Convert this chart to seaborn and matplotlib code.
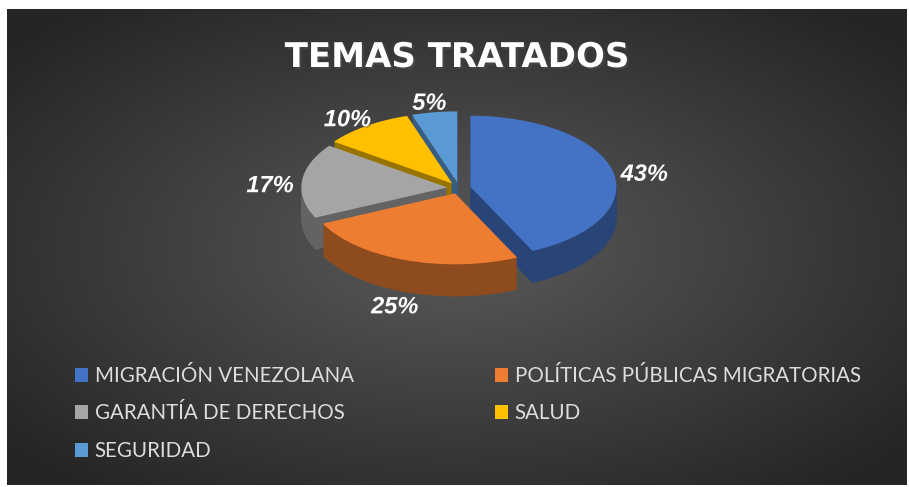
import numpy as np
import matplotlib
matplotlib.use("Agg")
import matplotlib.pyplot as plt
import matplotlib.patheffects as pe
from matplotlib.colors import LinearSegmentedColormap
import seaborn as sns

temas = ["MIGRACIÓN VENEZOLANA", "POLÍTICAS PÚBLICAS MIGRATORIAS",
         "GARANTÍA DE DERECHOS", "SALUD", "SEGURIDAD"]
porcentajes = [43, 25, 17, 10, 5]
colores = ["#4472C4", "#ED7D31", "#A5A5A5", "#FFC000", "#5B9BD5"]

sns.set_style("dark")
plt.rcParams["font.family"] = ["Liberation Sans", "DejaVu Sans"]
paleta = sns.color_palette(colores)
lados = [tuple(np.array(c) * 0.6) for c in paleta]

W, H = 909, 487
fig = plt.figure(figsize=(W / 100, H / 100), dpi=100, facecolor="white")

# fondo con degradado radial
bg = fig.add_axes([7 / W, 2 / H, 900 / W, 476 / H])
yy, xx = np.mgrid[0:476, 0:900]
d = np.hypot((xx - 450) / 450, (yy - 238) / 238) / 1.3
cmap_bg = LinearSegmentedColormap.from_list("bg", ["#5a5a5a", "#252525"])
bg.imshow(np.clip(d, 0, 1), cmap=cmap_bg, vmin=0, vmax=1, aspect="auto")
bg.axis("off")

# pastel 3D aproximado
cx, cy, rx, ry = 459, 188, 146, 71
prof = 32 / ry
n = 32
explode = [0.08] * len(porcentajes)

ax = fig.add_axes([0, 0, 1, 1])
ax.set_facecolor("none")
for k in range(n, 0, -1):
    ax.pie(porcentajes, colors=lados, startangle=90, counterclock=False,
           explode=explode, center=(0, -prof * k / n),
           wedgeprops=dict(linewidth=0))
wedges, _, autotexts = ax.pie(
    porcentajes, colors=paleta, startangle=90, counterclock=False,
    explode=explode, autopct="%1.0f%%", pctdistance=1.22,
    wedgeprops=dict(linewidth=0),
    textprops=dict(color="white", fontsize=17, fontweight="bold",
                   fontstyle="italic"))
for t in autotexts:
    x, y = t.get_position()
    y -= prof * 0.2
    if y < 0:
        y -= prof * 0.8
    t.set_position((x, y))
    t.set_path_effects([pe.withSimplePatchShadow(offset=(1, -1), alpha=0.4)])

ax.set_aspect("auto")
ax.set_xlim(-cx / rx, (W - cx) / rx)
ax.set_ylim((cy - H) / ry, cy / ry)
ax.axis("off")

fig.text(457 / W, 1 - 67 / H, "TEMAS TRATADOS", ha="center", va="baseline",
         color="white", fontsize=24.5, fontweight="bold", family="DejaVu Sans",
         path_effects=[pe.withSimplePatchShadow(offset=(1.5, -1.5), alpha=0.6)])

# leyenda en dos columnas
prop = dict(family=["Lato", "DejaVu Sans"], size=14.8)
for cols, x0 in [([0, 2, 4], 75), ([1, 3], 495)]:
    fig.legend([wedges[i] for i in cols], [temas[i] for i in cols],
               loc="upper left", bbox_to_anchor=(x0 / W, 1 - 366 / H),
               frameon=False, prop=prop, labelcolor="#DDDDDD",
               handlelength=0.65, handleheight=0.65, handletextpad=0.3,
               labelspacing=0.85, borderpad=0, borderaxespad=0)

fig.savefig("out.png", dpi=100, facecolor="white")
